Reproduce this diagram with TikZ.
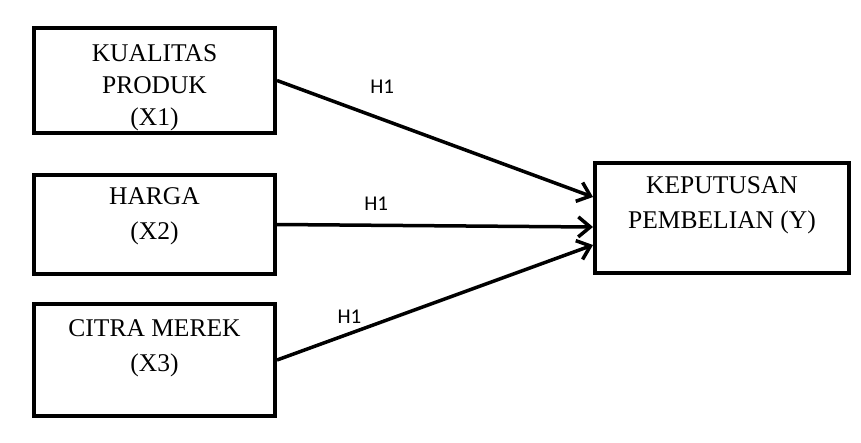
\documentclass[tikz,border=0pt]{standalone}
\usepackage{fontspec}
\setmainfont{Liberation Serif}
\newfontfamily\hypfont{Carlito}
\usetikzlibrary{positioning, arrows.meta}

\begin{document}
\begin{tikzpicture}[
    x = 1pt, y = -1pt,
    %
    construct/.style = {draw,
      line width = 4pt},
    boxtext/.style = {font = \fontsize{25.5}{35}\selectfont,
      align = center, inner sep = 0pt},
    %
    influence/.style = {line width = 3.5pt,
      -{Straight Barb[length = 12pt, width = 20pt]}},
    hypothesis/.style = {font = \hypfont\fontsize{21}{21}\selectfont,
      inner sep = 0pt},
    ]

    \useasboundingbox (0, 0) rectangle (861, 442);

    \node at (154.5, 80.5)
    [construct, minimum width = 241pt, minimum height = 105pt, name = X1] {};
    \node at (154.5, 224.5)
    [construct, minimum width = 241pt, minimum height = 99pt, name = X2] {};
    \node at (154.5, 360)
    [construct, minimum width = 241pt, minimum height = 112pt, name = X3] {};

    \node at (722, 218)
    [construct, minimum width = 254pt, minimum height = 110pt, name = Y] {};

    \node [boxtext, font = \fontsize{25.5}{32}\selectfont,
      below = 18pt of X1.north, name = X1_text]
    {KUALITAS\\PRODUK\\(X1)};
    \node [boxtext, below = 14pt of X2.north, name = X2_text]
    {HARGA\\(X2)};
    \node [boxtext, below = 17pt of X3.north, name = X3_text]
    {CITRA MEREK\\(X3)};
    \node [boxtext, below = 15pt of Y.north, name = Y_text]
    {KEPUTUSAN\\PEMBELIAN (Y)};

    \draw [influence] (X1.east) to node [hypothesis, pos = 0.333, above = 24pt]
    {H1} ([yshift = 21pt]Y.west);

    \draw [influence] (X2.east) to node [hypothesis, pos = 0.314, above = 13pt]
    {H1} ([yshift = -9pt]Y.west);

    \draw [influence] (X3.east) to node [hypothesis, pos = 0.229, above = 8pt]
    {H1} ([yshift = -27pt]Y.west);

  \end{tikzpicture}
\end{document}
